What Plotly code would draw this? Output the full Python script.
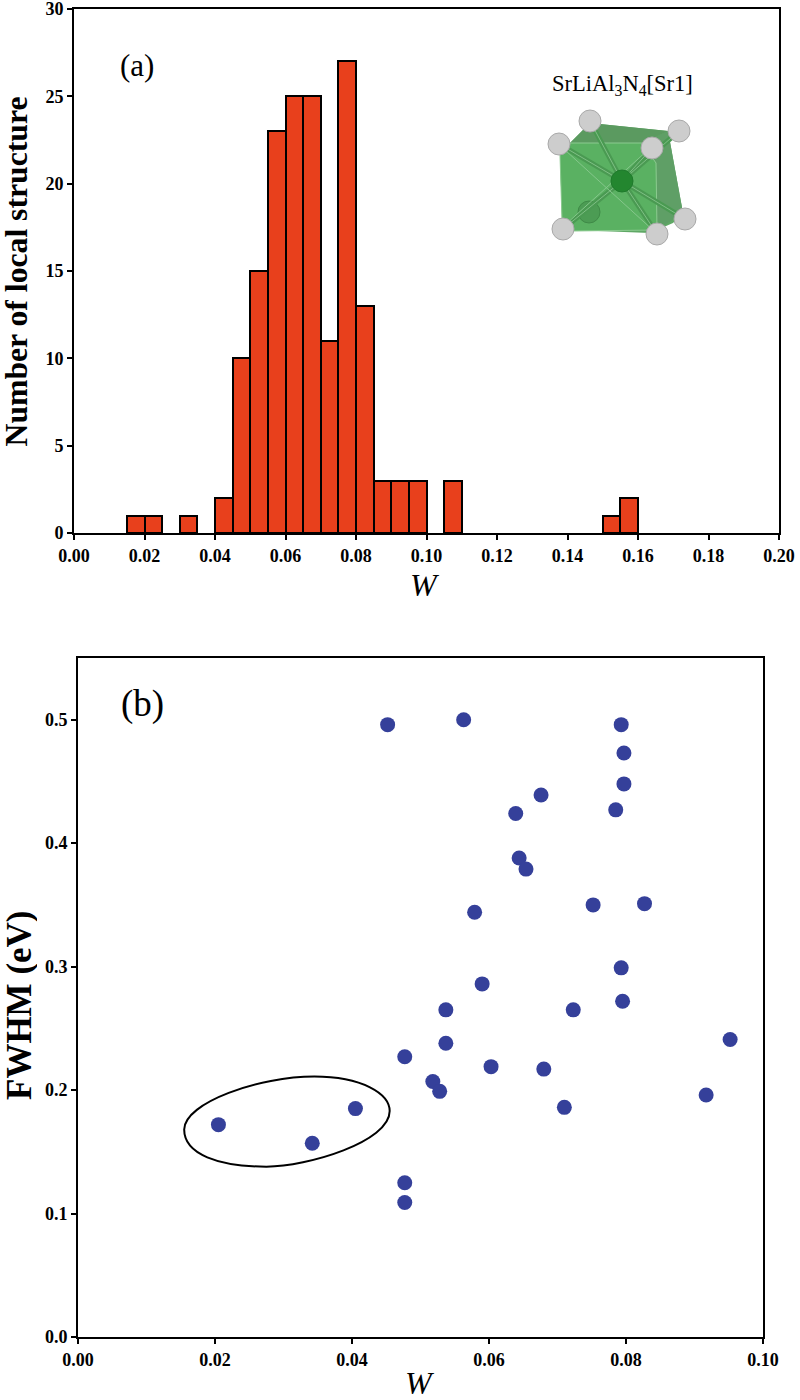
import plotly.graph_objects as go

bin_centers = [0.0175,0.0225,0.0325,0.0425,0.0475,0.0525,0.0575,0.0625,0.0675,0.0725,0.0775,0.0825,0.0875,0.0925,0.0975,0.1075,0.1525,0.1575]
counts = [1,1,1,2,10,15,23,25,25,11,27,13,3,3,3,3,1,2]
w_b = [0.0205,0.0342,0.0405,0.0452,0.0477,0.0477,0.0477,0.0518,0.0528,0.0537,0.0537,0.0563,0.0579,0.059,0.0603,0.0639,0.0644,0.0654,0.0676,0.068,0.071,0.0723,0.0752,0.0785,0.0793,0.0793,0.0795,0.0797,0.0797,0.0827,0.0917,0.0952]
fwhm_b = [0.172,0.157,0.185,0.496,0.109,0.125,0.227,0.207,0.199,0.238,0.265,0.5,0.344,0.286,0.219,0.424,0.388,0.379,0.439,0.217,0.186,0.265,0.35,0.427,0.299,0.496,0.272,0.473,0.448,0.351,0.196,0.241]
x_ticks_a = [0,0.02,0.04,0.06,0.08,0.10,0.12,0.14,0.16,0.18,0.20]
x_ticks_b = [0,0.02,0.04,0.06,0.08,0.10]
FONT = "Liberation Serif"
W = 1/800; H = 1/1400

# Inset crystal illustration (pixel positions on the page)
spheres = [(590,121),(679,131),(559,144),(652,148),(685,219),(563,229),(657,234)]
center = (622,181)
back_atom = (589,212)

def poly(points, fill, line="rgba(0,0,0,0)", layer="above"):
    path = "M " + " L ".join(f"{x*W},{1-y*H}" for x, y in points) + " Z"
    return dict(type="path", xref="paper", yref="paper", path=path, fillcolor=fill, line=dict(color=line, width=1), layer=layer)

def circ(c, r, fill, line):
    x, y = c
    return dict(type="circle", xref="paper", yref="paper", x0=(x-r)*W, x1=(x+r)*W, y0=1-(y+r)*H, y1=1-(y-r)*H, fillcolor=fill, line=dict(color=line, width=1))

def seg(a, b, color, width):
    return dict(type="line", xref="paper", yref="paper", x0=a[0]*W, y0=1-a[1]*H, x1=b[0]*W, y1=1-b[1]*H, line=dict(color=color, width=width))

inset = [
    poly([(570,143),(590,123),(668,131),(683,213),(673,223),(650,233),(572,230),(562,220),(560,155)], "#5fa865"),
    poly([(570,143),(590,123),(668,131),(642,143)], "#5b9a60"),
    poly([(642,143),(668,131),(683,213),(657,230),(656,163)], "#5f9f66"),
    poly([(560,155),(570,143),(642,143),(656,163),(657,230),(573,231),(562,220)], "#5ab162", "#8ccb90"),
    circ(back_atom, 11, "#4c9c54", "#3f8a47"),
]
inset += [seg(center, s, "#4a9a52", 5) for s in spheres]
inset += [seg(center, s, "#7fbf85", 1) for s in spheres]
inset += [seg((565,150),(655,232),"#85c78b",1), seg((648,150),(565,225),"#85c78b",1)]
inset += [circ(center, 11, "#23862f", "#1f7a2c")]
inset += [circ(s, 11, "#cdcdcd", "#a9a9a9") for s in spheres]

fig = go.Figure()
fig.add_trace(go.Bar(x=bin_centers, y=counts, width=0.005, marker=dict(color="#e8401c", line=dict(color="black", width=2)), xaxis="x", yaxis="y"))
fig.add_trace(go.Scatter(x=w_b, y=fwhm_b, mode="markers", marker=dict(color="#35409a", size=15), xaxis="x2", yaxis="y2"))

axis = dict(automargin=False, ticklabeloverflow="allow", showgrid=False, zeroline=False, showline=True, linecolor="black", linewidth=2, mirror=True, ticks="outside", ticklen=5, tickwidth=2, tickcolor="black", tickfont=dict(family=FONT, size=18, color="black", weight="bold"))
fig.update_layout(
    width=800, height=1400, autosize=False, showlegend=False, paper_bgcolor="white", plot_bgcolor="white",
    margin=dict(l=0,r=0,t=0,b=0), bargap=0,
    xaxis=dict(axis, domain=[74*W,779*W], range=[0,0.2], tickvals=x_ticks_a, ticktext=["%.2f"%t for t in x_ticks_a], anchor="y"),
    yaxis=dict(axis, domain=[1-533*H,1-9*H], range=[0,30], tickvals=[0,5,10,15,20,25,30], anchor="x"),
    xaxis2=dict(axis, domain=[78*W,763*W], range=[0,0.1], tickvals=x_ticks_b, ticktext=["%.2f"%t for t in x_ticks_b], anchor="y2"),
    yaxis2=dict(axis, domain=[1-1337*H,1-658*H], range=[0,0.55], tickvals=[0,0.1,0.2,0.3,0.4,0.5], ticktext=["0.0","0.1","0.2","0.3","0.4","0.5"], anchor="x2"),
    shapes=inset+[dict(type="path", xref="x2", yref="y2", line=dict(color="black", width=2),
        path="M 0.0155,0.168 C 0.0155,0.19 0.0265,0.211 0.0345,0.211 C 0.0415,0.211 0.0455,0.197 0.0455,0.183 C 0.0455,0.158 0.0335,0.138 0.0275,0.138 C 0.0205,0.138 0.0155,0.148 0.0155,0.168 Z")],
    annotations=[
        dict(text="(a)", x=118*W, y=1-65*H, xref="paper", yref="paper", xanchor="left", yanchor="middle", showarrow=False, font=dict(family=FONT, size=31, color="black")),
        dict(text="(b)", x=119*W, y=1-704*H, xref="paper", yref="paper", xanchor="left", yanchor="middle", showarrow=False, font=dict(family=FONT, size=37, color="black")),
        dict(text="SrLiAl<sub>3</sub>N<sub>4</sub>[Sr1]", x=622*W, y=1-85*H, xref="paper", yref="paper", xanchor="center", yanchor="middle", showarrow=False, font=dict(family=FONT, size=22.5, color="black")),
        dict(text="<i>W</i>", x=425*W, y=1-585*H, xref="paper", yref="paper", xanchor="center", yanchor="middle", showarrow=False, font=dict(family=FONT, size=32, color="black")),
        dict(text="<i>W</i>", x=420*W, y=1-1383*H, height=28, xref="paper", yref="paper", xanchor="center", yanchor="middle", showarrow=False, font=dict(family=FONT, size=32, color="black")),
        dict(text="<b>Number of local structure</b>", x=16.5*W, y=1-272*H, height=32, xref="paper", yref="paper", xanchor="center", yanchor="middle", textangle=-90, showarrow=False, font=dict(family=FONT, size=31.7, color="black")),
        dict(text="<b>FWHM (eV)</b>", x=19*W, y=1-1005*H, height=36, xref="paper", yref="paper", xanchor="center", yanchor="middle", textangle=-90, showarrow=False, font=dict(family=FONT, size=35, color="black")),
    ],
)
fig.write_html("out.html", config=dict(displayModeBar=False), post_script="document.body.style.margin='0';")
